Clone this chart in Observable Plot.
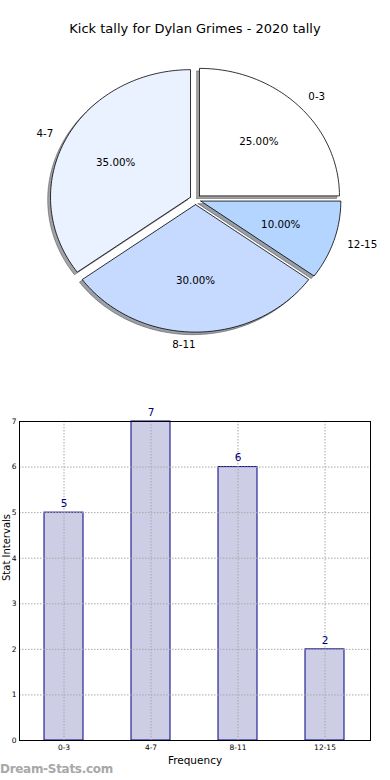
<!DOCTYPE html>
<html>
<head>
<meta charset="utf-8">
<script src="https://cdn.jsdelivr.net/npm/d3@7"></script>
<script src="https://cdn.jsdelivr.net/npm/@observablehq/plot@0.6"></script>
<style>
  body { margin: 0; background: #fff; }
  #wrap { position: relative; width: 390px; height: 780px; overflow: hidden; font-family: "DejaVu Sans", sans-serif; background: #fff; }
  #title { position: absolute; left: 0; top: 21px; width: 390px; text-align: center; font-size: 13px; color: #000; }
  #pie { position: absolute; left: 0; top: 40px; }
  #bars { position: absolute; left: 0; top: 400px; }
  #mark { position: absolute; left: 0; top: 762px; font-size: 12px; color: #a8a8a8; font-weight: bold; letter-spacing: -0.3px; }
  svg { overflow: visible; }
</style>
</head>
<body>
<div id="wrap">
  <div id="title">Kick tally for Dylan Grimes - 2020 tally</div>
  <div id="pie"></div>
  <div id="bars"></div>
  <div id="mark">Dream-Stats.com</div>
</div>
<script>
// ---- data ----
const categories = ["0-3", "4-7", "8-11", "12-15"];
const counts = [5, 7, 6, 2];
const yTicks = [0, 1, 2, 3, 4, 5, 6, 7];
const sliceColors = ["#ffffff", "#eaf1ff", "#c6d9ff", "#b3d5ff"];

// ---- pie geometry (matplotlib-style: start at 3 o'clock, counterclockwise) ----
const explode = 0.04;
const shadowOff = 0.02;
const total = d3.sum(counts);
const wedgePts = [], shadowPts = [], labelPts = [], pctPts = [];
let acc = 0;
categories.forEach((c, i) => {
  const frac = counts[i] / total;
  const a0 = acc * 2 * Math.PI, a1 = (acc + frac) * 2 * Math.PI;
  acc += frac;
  const mid = (a0 + a1) / 2;
  const ox = explode * Math.cos(mid), oy = explode * Math.sin(mid);
  const n = Math.max(4, Math.ceil(frac * 240));
  const pts = [{x: ox, y: oy}];
  for (let k = 0; k <= n; k++) {
    const t = a0 + (a1 - a0) * k / n;
    pts.push({x: ox + Math.cos(t), y: oy + Math.sin(t)});
  }
  pts.push({x: ox, y: oy});
  const col = d3.rgb(sliceColors[i]);
  const sh = d3.rgb(col.r * 0.3, col.g * 0.3, col.b * 0.3).formatHex();
  pts.forEach(p => {
    wedgePts.push({key: c, x: p.x, y: p.y, fill: sliceColors[i]});
    shadowPts.push({key: c, x: p.x - shadowOff, y: p.y - shadowOff, fill: sh});
  });
  const cx = Math.cos(mid), cy = Math.sin(mid);
  labelPts.push({x: ox + 1.1 * cx, y: oy + 1.1 * cy, text: c, right: cx > 0});
  pctPts.push({x: ox + 0.6 * cx, y: oy + 0.6 * cy, text: (frac * 100).toFixed(2) + "%"});
});

// pixel layout of the ellipse
const PW = 390, PH = 340, RX = 140, RY = 127.5, CX = 195, CY = 159;
const pie = Plot.plot({
  width: PW, height: PH,
  margin: 0,
  x: {domain: [-CX / RX, (PW - CX) / RX], axis: null},
  y: {domain: [(CY - PH) / RY, CY / RY], axis: null},
  color: {type: "identity"},
  style: {fontFamily: "DejaVu Sans", background: "transparent", overflow: "visible"},
  marks: [
    Plot.line(shadowPts, {x: "x", y: "y", z: "key", fill: "fill", stroke: "fill", fillOpacity: 0.5, strokeOpacity: 0.5, strokeWidth: 1, curve: "linear"}),
    Plot.line(wedgePts, {x: "x", y: "y", z: "key", fill: "fill", stroke: "#000", strokeWidth: 0.8, curve: "linear"}),
    Plot.text(pctPts, {x: "x", y: "y", text: "text", fontSize: 10.3, fill: "#000", textAnchor: "middle", lineAnchor: "middle"}),
    Plot.text(labelPts.filter(d => d.right), {x: "x", y: "y", text: "text", fontSize: 10.3, fill: "#000", textAnchor: "start", lineAnchor: "middle"}),
    Plot.text(labelPts.filter(d => !d.right), {x: "x", y: "y", text: "text", fontSize: 10.3, fill: "#000", textAnchor: "end", lineAnchor: "middle"})
  ]
});
document.getElementById("pie").appendChild(pie);

// ---- bar chart ----
const barData = categories.map((c, i) => ({cat: c, value: counts[i]}));
const bars = Plot.plot({
  width: 390, height: 380,
  marginLeft: 19, marginRight: 20, marginTop: 21, marginBottom: 40,
  x: {domain: categories, paddingInner: 0.55, paddingOuter: 0.275, align: 0.5},
  y: {domain: [0, 7]},
  style: {fontFamily: "DejaVu Sans", background: "transparent", overflow: "visible"},
  marks: [
    Plot.barY(barData, {x: "cat", y: "value", fill: "#cdcde6", stroke: "#000080", strokeWidth: 1}),
    Plot.gridY(yTicks, {stroke: "#a8a8a8", strokeOpacity: 1, strokeDasharray: "1.5,1.5", strokeWidth: 1}),
    Plot.gridX(categories, {stroke: "#a8a8a8", strokeOpacity: 1, strokeDasharray: "1.5,1.5", strokeWidth: 1}),
    Plot.frame({stroke: "#000", strokeWidth: 1}),
    Plot.axisY(yTicks, {tickSize: 0, tickPadding: 3, fontSize: 7.5, label: null, tickFormat: d => String(d)}),
    Plot.axisX(categories, {tickSize: 0, tickPadding: 4, fontSize: 7.5, label: null}),
    Plot.text(barData, {x: "cat", y: "value", text: d => String(d.value), dy: -9, fontSize: 10.5, fill: "#000080", lineAnchor: "middle"}),
    Plot.text(["Frequency"], {frameAnchor: "bottom", dy: 20, fontSize: 10.5, fill: "#000", lineAnchor: "middle"}),
    Plot.text(["Stat Intervals"], {frameAnchor: "left", rotate: -90, dx: -12.5, fontSize: 10, fill: "#000", lineAnchor: "middle"})
  ]
});
document.getElementById("bars").appendChild(bars);
</script>
</body>
</html>
